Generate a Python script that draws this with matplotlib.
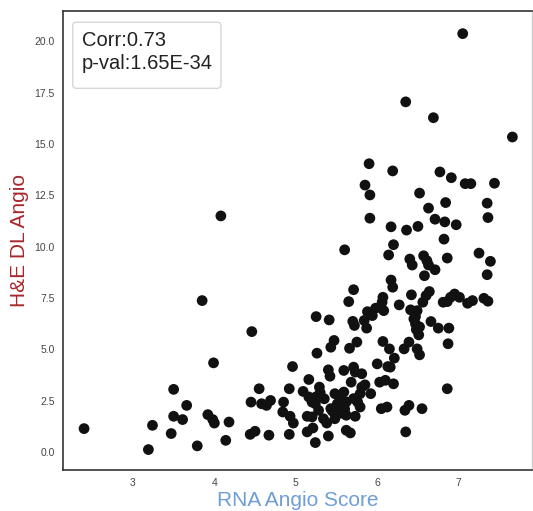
import matplotlib
matplotlib.use("Agg")
import matplotlib.pyplot as plt
from matplotlib.patches import FancyBboxPatch

rna_score = [
    2.40, 3.19, 3.24, 3.47, 3.50, 3.50, 3.61, 3.66, 3.79, 3.85, 3.92, 3.98, 4.00, 3.99,
    4.14, 4.18, 4.44, 4.50, 4.46, 4.45, 4.55, 4.58, 4.64, 4.69, 4.67, 4.85, 4.84, 4.92,
    4.93, 4.97, 4.92, 4.96, 5.09, 5.16, 5.16, 5.20, 5.24, 5.14, 5.20, 5.14, 5.21, 5.24,
    5.25, 5.26, 5.29, 5.28, 5.34, 5.38, 5.40, 5.41, 5.40, 5.42, 5.43, 5.47, 5.43, 5.48,
    5.51, 5.55, 5.48, 5.59, 5.59, 5.60, 5.59, 5.62, 5.67, 5.62, 5.66, 5.65, 5.68, 5.71,
    5.70, 5.72, 5.71, 5.73, 5.75, 5.71, 5.76, 5.73, 5.79, 5.81, 5.81, 5.79, 5.85, 5.84,
    5.87, 5.88, 5.92, 5.94, 5.98, 6.00, 6.03, 6.05, 6.06, 6.07, 6.07, 6.08, 6.10, 6.12,
    6.13, 6.14, 6.15, 6.16, 6.17, 6.20, 6.19, 6.20, 6.21, 6.27, 6.33, 6.35, 6.34, 6.39,
    6.39, 6.41, 6.42, 6.40, 6.43, 6.45, 6.47, 6.49, 6.48, 6.51, 6.49, 6.52, 6.55, 6.56,
    6.58, 6.60, 6.64, 6.57, 6.61, 6.63, 6.71, 6.66, 6.75, 6.82, 6.86, 6.81, 6.86, 6.90,
    6.95, 6.88, 6.87, 6.86, 7.01, 7.11, 7.17, 7.25, 7.31, 7.36, 7.35, 7.39,
    7.05, 6.35, 6.69, 7.66, 5.90, 6.19, 6.77, 6.91, 7.08, 7.15, 7.44, 5.85, 5.91, 6.52,
    6.84, 7.35, 6.63, 7.36, 5.91, 6.71, 6.83, 6.97, 6.17, 6.36, 6.50, 4.08,
    5.52, 5.55, 5.58, 5.50, 5.45, 5.60, 5.35, 5.30, 5.25, 5.55, 5.62, 6.47, 6.52,
]

he_dl_angio = [
    1.15, 0.13, 1.31, 0.91, 1.75, 3.06, 1.59, 2.28, 0.31, 7.38, 1.83, 1.59, 1.42, 4.35,
    0.58, 1.47, 0.87, 1.02, 5.87, 2.44, 3.09, 2.36, 2.28, 2.52, 0.83, 2.44, 1.96, 3.09,
    1.75, 1.42, 0.87, 4.17, 2.96, 3.54, 2.69, 2.44, 2.36, 1.75, 1.72, 0.99, 1.18, 0.47,
    6.60, 4.82, 3.17, 2.04, 1.63, 1.42, 0.79, 6.44, 4.01, 3.70, 5.11, 5.44, 2.12, 2.85,
    2.36, 2.12, 1.63, 2.93, 3.98, 9.85, 1.96, 1.07, 0.94, 1.80, 5.06, 7.33, 3.41, 7.91,
    6.37, 6.17, 4.14, 3.90, 5.36, 2.61, 2.44, 1.75, 2.20, 3.82, 3.17, 2.85, 3.28, 6.41,
    6.04, 6.84, 2.85, 6.65, 7.01, 4.30, 3.41, 2.12, 7.30, 5.39, 7.54, 6.89, 3.50, 2.20,
    4.17, 9.60, 5.03, 4.14, 8.38, 10.10, 8.03, 3.33, 4.58, 7.17, 5.03, 0.99, 2.04, 2.28,
    5.36, 6.93, 7.66, 9.40, 9.11, 6.49, 6.25, 6.89, 5.97, 5.71, 5.03, 4.74, 2.12, 7.30,
    8.59, 7.62, 7.82, 9.56, 9.32, 9.11, 8.88, 6.36, 6.04, 10.37, 9.45, 7.30, 7.33, 7.54,
    7.70, 6.04, 5.28, 3.09, 7.54, 7.25, 7.38, 9.69, 7.49, 7.35, 8.64, 9.29,
    20.37, 17.05, 16.28, 15.34, 14.04, 13.69, 13.64, 13.36, 13.07, 13.07, 13.09, 13.00, 12.52, 12.61,
    12.15, 12.12, 11.88, 11.42, 11.39, 11.34, 11.21, 11.07, 10.97, 10.81, 10.99, 11.50,
    2.20, 1.90, 2.30, 1.85, 2.00, 2.10, 2.60, 2.90, 2.70, 2.55, 2.45, 6.60, 6.10,
]

y_ticks = [0.0, 2.5, 5.0, 7.5, 10.0, 12.5, 15.0, 17.5, 20.0]
x_ticks = [3, 4, 5, 6, 7]
stats_text = "Corr:0.73\np-val:1.65E-34"

plt.rcParams['font.family'] = ['Liberation Sans', 'DejaVu Sans']

fig = plt.figure(figsize=(5.33, 5.11), dpi=100)
ax = fig.add_axes([0.118, 0.080, 0.880, 0.898])

ax.scatter(rna_score, he_dl_angio, s=60, color='#111111', edgecolors='none', zorder=3)

ax.set_xlim(2.14, 7.9)
ax.set_ylim(-0.87, 21.46)
ax.set_xticks(x_ticks)
ax.set_xticklabels([str(t) for t in x_ticks])
ax.set_yticks(y_ticks)
ax.set_yticklabels([f"{t:.1f}" for t in y_ticks])
ax.tick_params(axis='both', length=0, labelsize=7.5, labelcolor='#444444', pad=6)

ax.set_xlabel("RNA Angio Score", fontsize=15, color='#6f9ed6', labelpad=2)
ax.set_ylabel("H&E DL Angio", fontsize=15, color='#a8262a', labelpad=4)

for side in ['left', 'bottom', 'top']:
    ax.spines[side].set_color('#333333')
    ax.spines[side].set_linewidth(1.2)
ax.spines['right'].set_color('#cccccc')
ax.spines['right'].set_linewidth(1.0)

box = FancyBboxPatch((0.021, 0.832), 0.316, 0.144, transform=ax.transAxes,
                     boxstyle="round,pad=0,rounding_size=0.008",
                     facecolor='white', edgecolor='#d6d6d6', linewidth=1.0, zorder=4)
ax.add_patch(box)
ax.text(0.040, 0.957, stats_text, transform=ax.transAxes, fontsize=14.5,
        va='top', ha='left', color='#222222', linespacing=1.3, zorder=5)

fig.savefig("out.png", dpi=100)
